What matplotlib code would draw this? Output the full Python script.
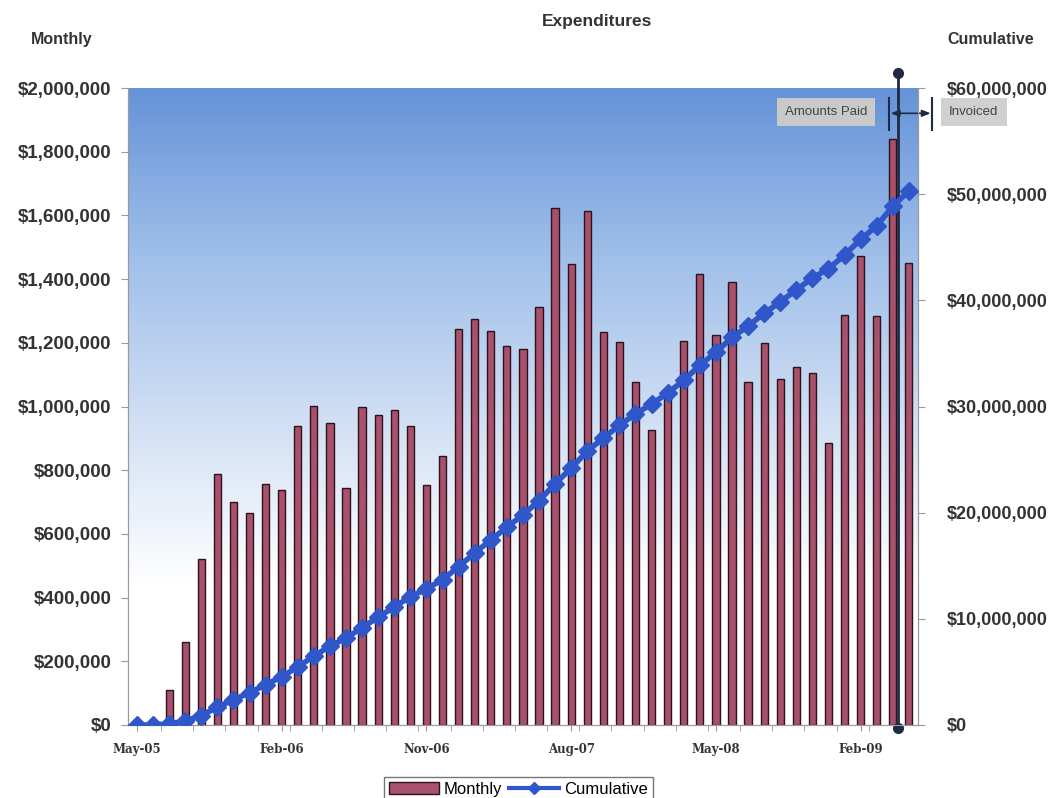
import numpy as np
import matplotlib
matplotlib.use("Agg")
import matplotlib.pyplot as plt
from matplotlib.patches import Patch
from matplotlib.lines import Line2D
from matplotlib.colors import LinearSegmentedColormap
from matplotlib.ticker import FuncFormatter

# monthly expenditures, May-05 .. May-09 (dollars, thousands)
months = ["May-05", "Jun-05", "Jul-05", "Aug-05", "Sep-05", "Oct-05", "Nov-05", "Dec-05",
          "Jan-06", "Feb-06", "Mar-06", "Apr-06", "May-06", "Jun-06", "Jul-06", "Aug-06",
          "Sep-06", "Oct-06", "Nov-06", "Dec-06", "Jan-07", "Feb-07", "Mar-07", "Apr-07",
          "May-07", "Jun-07", "Jul-07", "Aug-07", "Sep-07", "Oct-07", "Nov-07", "Dec-07",
          "Jan-08", "Feb-08", "Mar-08", "Apr-08", "May-08", "Jun-08", "Jul-08", "Aug-08",
          "Sep-08", "Oct-08", "Nov-08", "Dec-08", "Jan-09", "Feb-09", "Mar-09", "Apr-09",
          "May-09"]
monthly_k = [0, 0, 110, 260, 521, 787, 699, 667, 756, 738,
             940, 1003, 948, 743, 1000, 972, 990, 940, 755, 846,
             1243, 1275, 1237, 1189, 1181, 1312, 1623, 1446, 1613, 1234,
             1201, 1078, 926, 1030, 1206, 1417, 1224, 1392, 1077, 1198,
             1086, 1125, 1106, 886, 1286, 1472, 1283, 1840, 1451]
tick_every = 9

monthly = np.array(monthly_k) * 1000.0
cumulative = np.cumsum(monthly)
x = np.arange(len(months))

bar_color = "#a9506c"
line_color = "#2f57c9"
text_color = "#333333"
mark_color = "#1f2a44"

fig = plt.figure(figsize=(10.54, 7.98), dpi=100)
ax = fig.add_axes([0.1214, 0.0915, 0.7496, 0.7982])
ax2 = ax.twinx()

# blue -> white background gradient of the plot area
cmap = LinearSegmentedColormap.from_list(
    "bg", [(0.0, "#ffffff"), (0.22, "#ffffff"), (0.45, "#d6e3f5"),
           (0.75, "#9dbde9"), (1.0, "#6593d8")])
grad = np.linspace(0, 1, 256).reshape(-1, 1)
ax.imshow(grad, cmap=cmap, aspect="auto", origin="lower",
          extent=[0, 1, 0, 1], transform=ax.transAxes, zorder=0)

ax.bar(x, monthly, width=0.45, color=bar_color, edgecolor="#2a1418",
       linewidth=1.0, zorder=2)
ax2.plot(x, cumulative, color=line_color, lw=4, marker="D", ms=9,
         mec=line_color, mfc=line_color, zorder=3)

ax.set_xlim(-0.56, 48.57)
ax.set_ylim(0, 2000000)
ax2.set_ylim(0, 60000000)
ax.set_yticks(np.arange(0, 2000001, 200000))
ax2.set_yticks(np.arange(0, 60000001, 10000000))
money = FuncFormatter(lambda v, p: "${:,.0f}".format(v))
ax.yaxis.set_major_formatter(money)
ax2.yaxis.set_major_formatter(money)

ax.set_xticks(x[::tick_every])
ax.set_xticklabels(months[::tick_every], family="DejaVu Serif",
                   fontweight="bold", fontsize=8.5, color=text_color)
ax.set_xticks(np.arange(1.5, len(months), 2), minor=True)
ax.tick_params(axis="x", which="both", length=4, color="#999999", pad=9)
ax.tick_params(axis="y", length=5, color="#999999", pad=7, labelsize=13.5,
               labelcolor=text_color)
ax2.tick_params(axis="y", length=5, color="#999999", pad=16, labelsize=13,
                labelcolor=text_color)
for lab in ax.get_yticklabels() + ax2.get_yticklabels():
    lab.set_fontweight("bold")
    lab.set_family("Liberation Sans")

for a in (ax, ax2):
    a.spines["top"].set_visible(False)
    for s in ("left", "right", "bottom"):
        a.spines[s].set_color("#9a9a9a")
ax.set_zorder(ax2.get_zorder() - 1)
ax2.patch.set_visible(False)
ax.set_facecolor("white")

fig.text(0.566, 0.973, "Expenditures", ha="center", va="center",
         fontsize=12.5, fontweight="bold", family="Liberation Sans", color=text_color)
fig.text(0.059, 0.95, "Monthly", ha="center", va="center",
         fontsize=11.5, fontweight="bold", family="Liberation Sans", color=text_color)
fig.text(0.94, 0.95, "Cumulative", ha="center", va="center",
         fontsize=11.5, fontweight="bold", family="Liberation Sans", color=text_color)

# paid / invoiced marker
split = 47.3
ax.plot([split, split], [-0.004, 1.023], transform=ax.get_xaxis_transform(),
        color=mark_color, lw=2, clip_on=False, zorder=5)
ax.plot([split, split], [-0.004, 1.023], transform=ax.get_xaxis_transform(),
        ls="none", marker="o", ms=7, color=mark_color, clip_on=False, zorder=5)
for fx in (0.8435, 0.8845):
    fig.add_artist(Line2D([fx, fx], [0.837, 0.877], color=mark_color, lw=1.5))
ax.annotate("", xy=(0.8830, 0.858), xytext=(0.8450, 0.858),
            xycoords="figure fraction",
            arrowprops=dict(arrowstyle="<|-|>,head_length=0.5,head_width=0.2",
                            color=mark_color, lw=1.2, shrinkA=0, shrinkB=0))
fig.text(0.784, 0.86, "Amounts Paid", ha="center", va="center", fontsize=9.5,
         family="Liberation Sans", color="#444444",
         bbox=dict(boxstyle="square,pad=0.6", fc="#c9c9c9", ec="none"))
fig.text(0.924, 0.86, "Invoiced", ha="center", va="center", fontsize=9.5,
         family="Liberation Sans", color="#444444",
         bbox=dict(boxstyle="square,pad=0.6", fc="#d0d0d0", ec="none"))

handles = [Patch(facecolor=bar_color, edgecolor="#2a1418"),
           Line2D([0], [0], color=line_color, lw=3, marker="D", ms=6)]
fig.legend(handles, ["Monthly", "Cumulative"], loc="upper center",
           bbox_to_anchor=(0.492, 0.037), ncol=2, frameon=True, fancybox=False,
           edgecolor="#555555", handlelength=3, handletextpad=0.3,
           columnspacing=0.4, borderpad=0.3, prop={"family": "Liberation Sans", "size": 12})

fig.savefig("out.png", dpi=100)
